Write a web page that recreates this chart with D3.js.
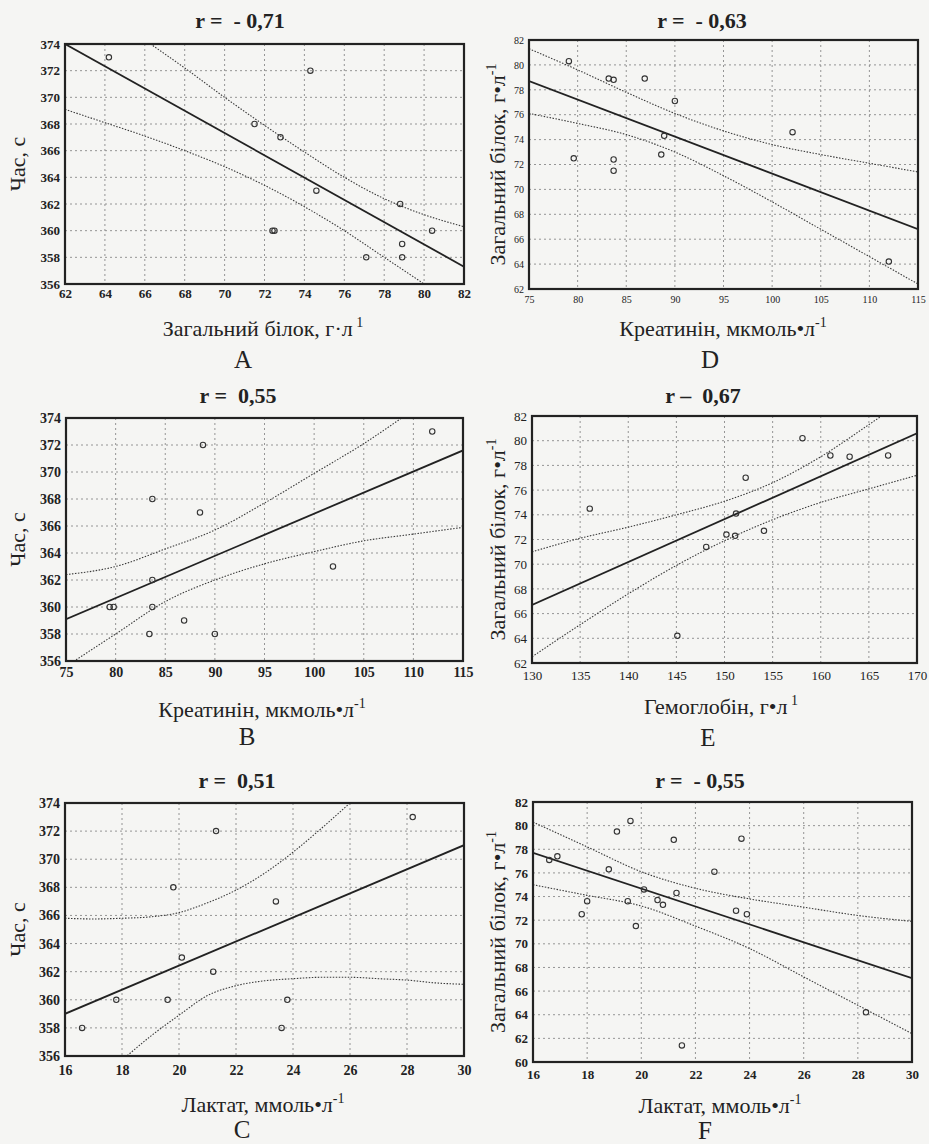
<!DOCTYPE html>
<html>
<head>
<meta charset="utf-8">
<script src="https://cdn.jsdelivr.net/npm/d3@7"></script>
<style>
  body { margin: 0; background: #f5f5f3; }
  svg text { fill: #222; white-space: pre; }
</style>
</head>
<body>
<svg id="chart" width="929" height="1144"></svg>
<script>
// Панель A: час vs загальний білок
const aX = [64.2, 74.3, 71.5, 72.8, 74.6, 78.8, 72.4, 72.5, 80.4, 78.9, 77.1, 78.9];
const aY = [373, 372, 368, 367, 363, 362, 360, 360, 360, 359, 358, 358];
const aFitX = [62, 82];
const aFitY = [374, 357.3];
const aBandX = [62, 64, 66, 68, 70, 72, 74, 76, 78, 80, 82];
const aUpper = [378.6, 376.4, 374.3, 372.2, 370.0, 367.9, 365.9, 364.0, 362.4, 361.2, 360.3];
const aLower = [369.1, 368.1, 367.1, 366.0, 364.8, 363.4, 361.8, 360.0, 358.0, 356.0, 353.9];
const aXTicks = [62, 64, 66, 68, 70, 72, 74, 76, 78, 80, 82];

// Панель B: час vs креатинін
const bX = [88.8, 111.9, 83.7, 88.5, 101.9, 83.7, 79.4, 79.8, 83.7, 86.9, 83.4, 90];
const bY = [372, 373, 368, 367, 363, 362, 360, 360, 360, 359, 358, 358];
const bFitX = [75, 115];
const bFitY = [359.1, 371.6];
const bBandX = [75, 80, 85, 90, 95, 100, 105, 110, 115];
const bUpper = [362.4, 363.0, 364.3, 365.7, 367.7, 369.9, 372.1, 374.6, 377.1];
const bLower = [355.6, 358.0, 360.4, 362.0, 363.2, 364.1, 364.9, 365.4, 365.9];
const bXTicks = [75, 80, 85, 90, 95, 100, 105, 110, 115];

// Панель C: час vs лактат
const cX = [16.6, 17.8, 19.6, 19.8, 20.1, 21.3, 21.2, 23.4, 23.8, 23.6, 28.2];
const cY = [358, 360, 360, 368, 363, 372, 362, 367, 360, 358, 373];
const cFitX = [16, 30];
const cFitY = [359.0, 371.0];
const cBandX = [16, 17, 18, 19, 20, 21, 22, 23, 24, 25, 26, 27, 28, 29, 30];
const cUpper = [365.8, 365.75, 365.8, 365.9, 366.2, 366.9, 367.8, 369.0, 370.5, 372.2, 374.0, 375.9, 377.8, 379.7, 381.6];
const cLower = [352.0, 353.9, 355.7, 357.4, 358.9, 360.3, 361.0, 361.35, 361.5, 361.6, 361.6, 361.5, 361.4, 361.2, 361.1];
const cXTicks = [16, 18, 20, 22, 24, 26, 28, 30];

const timeYTicks = [356, 358, 360, 362, 364, 366, 368, 370, 372, 374];

// Панель D: білок vs креатинін
const dX = [79.1, 79.6, 83.2, 83.7, 83.7, 83.7, 86.9, 90, 88.9, 88.6, 102.1, 112];
const dY = [80.3, 72.5, 78.9, 78.8, 72.4, 71.5, 78.9, 77.1, 74.3, 72.8, 74.6, 64.2];
const dFitX = [75, 115];
const dFitY = [78.7, 66.8];
const dBandX = [75, 80, 85, 90, 95, 100, 105, 110, 115];
const dUpper = [81.3, 79.6, 77.8, 76.1, 74.7, 73.6, 72.8, 72.1, 71.4];
const dLower = [76.1, 75.3, 74.4, 73.0, 71.1, 69.0, 66.8, 64.6, 62.4];
const dXTicks = [75, 80, 85, 90, 95, 100, 105, 110, 115];
const dYTicks = [62, 64, 66, 68, 70, 72, 74, 76, 78, 80, 82];

// Панель E: білок vs гемоглобін
const eX = [136, 145.1, 148.1, 150.2, 151.1, 151.2, 152.2, 154.1, 158.1, 161, 163, 167];
const eY = [74.5, 64.2, 71.4, 72.4, 72.3, 74.1, 77, 72.7, 80.2, 78.8, 78.7, 78.8];
const eFitX = [130, 170];
const eFitY = [66.7, 80.6];
const eBandX = [130, 135, 140, 145, 150, 155, 160, 165, 170];
const eUpper = [71.0, 72.1, 73.0, 74.0, 75.1, 76.6, 78.7, 81.3, 84.0];
const eLower = [62.5, 65.1, 67.6, 69.9, 71.9, 73.6, 75.0, 76.1, 77.2];
const eXTicks = [130, 135, 140, 145, 150, 155, 160, 165, 170];
const eYTicks = [62, 64, 66, 68, 70, 72, 74, 76, 78, 80, 82];

// Панель F: білок vs лактат
const fX = [16.6, 16.9, 17.8, 18.0, 18.8, 19.1, 19.6, 19.5, 19.8, 20.1, 20.6, 20.8, 21.2, 21.3, 21.5, 22.7, 23.5, 23.7, 23.9, 28.3];
const fY = [77.1, 77.4, 72.5, 73.6, 76.3, 79.5, 80.4, 73.6, 71.5, 74.6, 73.7, 73.3, 78.8, 74.3, 61.4, 76.1, 72.8, 78.9, 72.5, 64.2];
const fFitX = [16, 30];
const fFitY = [77.7, 67.1];
const fBandX = [16, 18, 20, 22, 24, 26, 28, 30];
const fUpper = [80.3, 78.2, 76.1, 74.7, 73.8, 73.1, 72.4, 71.9];
const fLower = [75.0, 74.1, 73.2, 71.5, 69.6, 67.2, 64.8, 62.4];
const fXTicks = [16, 18, 20, 22, 24, 26, 28, 30];
const fYTicks = [60, 62, 64, 66, 68, 70, 72, 74, 76, 78, 80, 82];

const titles = ['r =  - 0,71', 'r =  0,55', 'r =  0,51', 'r =  - 0,63', 'r \u2013  0,67', 'r =  - 0,55'];
const letters = ['A', 'B', 'C', 'D', 'E', 'F'];
const timeTitle = ['Час, с', ''];
const proteinTitle = ['Загальний білок, г\u2022л', '-1'];
const xTitles = [
    ['Загальний білок, г\u00b7л', ' 1'],
    ['Креатинін, мкмоль\u2022л', '-1'],
    ['Лактат, ммоль\u2022л', '-1'],
    ['Креатинін, мкмоль\u2022л', '-1'],
    ['Гемоглобін, г\u2022л', ' 1'],
    ['Лактат, ммоль\u2022л', '-1']
];

const FONT = '"Liberation Serif"';

// Розміщення панелей (пікселі)
const layout = [
    { left: 65, top: 44, right: 464, bottom: 284, titleX: 240, titleY: 28, xTitleX: 263, xTitleY: 336, letterX: 243, letterY: 368, yTitleX: 25, tickSize: 13, tickBold: true, xTickDy: 15 },
    { left: 66, top: 418, right: 463, bottom: 661, titleX: 238, titleY: 403, xTitleX: 262, xTitleY: 717, letterX: 247, letterY: 745, yTitleX: 25, tickSize: 14, tickBold: true, xTickDy: 17 },
    { left: 65, top: 803, right: 464, bottom: 1056, titleX: 237, titleY: 788, xTitleX: 263, xTitleY: 1112, letterX: 242, letterY: 1138, yTitleX: 25, tickSize: 14, tickBold: true, xTickDy: 20 },
    { left: 529, top: 40, right: 918, bottom: 289, titleX: 702, titleY: 28, xTitleX: 723, xTitleY: 336, letterX: 710, letterY: 368, yTitleX: 505, tickSize: 10, tickBold: false, xTickDy: 14 },
    { left: 532, top: 416, right: 917, bottom: 663, titleX: 703, titleY: 403, xTitleX: 721, xTitleY: 714, letterX: 708, letterY: 746, yTitleX: 505, tickSize: 13, tickBold: false, xTickDy: 18 },
    { left: 533, top: 802, right: 912, bottom: 1062, titleX: 700, titleY: 788, xTitleX: 720, xTitleY: 1113, letterX: 705, letterY: 1139, yTitleX: 505, tickSize: 13, tickBold: true, xTickDy: 18 }
];

const panels = [
    { xs: aX, ys: aY, fitX: aFitX, fitY: aFitY, bandX: aBandX, upper: aUpper, lower: aLower, xTicks: aXTicks, yTicks: timeYTicks, yTitle: timeTitle },
    { xs: bX, ys: bY, fitX: bFitX, fitY: bFitY, bandX: bBandX, upper: bUpper, lower: bLower, xTicks: bXTicks, yTicks: timeYTicks, yTitle: timeTitle },
    { xs: cX, ys: cY, fitX: cFitX, fitY: cFitY, bandX: cBandX, upper: cUpper, lower: cLower, xTicks: cXTicks, yTicks: timeYTicks, yTitle: timeTitle },
    { xs: dX, ys: dY, fitX: dFitX, fitY: dFitY, bandX: dBandX, upper: dUpper, lower: dLower, xTicks: dXTicks, yTicks: dYTicks, yTitle: proteinTitle },
    { xs: eX, ys: eY, fitX: eFitX, fitY: eFitY, bandX: eBandX, upper: eUpper, lower: eLower, xTicks: eXTicks, yTicks: eYTicks, yTitle: proteinTitle },
    { xs: fX, ys: fY, fitX: fFitX, fitY: fFitY, bandX: fBandX, upper: fUpper, lower: fLower, xTicks: fXTicks, yTicks: fYTicks, yTitle: proteinTitle }
];

const svg = d3.select('#chart');

function addLabel(sel, parts, size, supSize) {
    sel.append('tspan').attr('font-family', FONT).text(parts[0]);
    if (parts[1]) {
        sel.append('tspan').attr('font-family', FONT)
            .attr('dy', -size * 0.42).attr('font-size', supSize).text(parts[1]);
    }
}

function drawPanel(p, box, i) {
    const g = svg.append('g');
    const x = d3.scaleLinear().domain(d3.extent(p.xTicks)).range([box.left, box.right]);
    const y = d3.scaleLinear().domain(d3.extent(p.yTicks)).range([box.bottom, box.top]);
    const midY = (box.top + box.bottom) / 2;

    const clipId = 'clip' + i;
    svg.append('clipPath').attr('id', clipId).append('rect')
        .attr('x', box.left).attr('y', box.top)
        .attr('width', box.right - box.left).attr('height', box.bottom - box.top);

    // сітка
    g.append('g').selectAll('line').data(p.xTicks.slice(1, -1)).join('line')
        .attr('x1', d => x(d)).attr('x2', d => x(d))
        .attr('y1', box.top).attr('y2', box.bottom)
        .attr('stroke', '#8a8a8a').attr('stroke-width', 0.9).attr('stroke-dasharray', '2,3');
    g.append('g').selectAll('line').data(p.yTicks.slice(1, -1)).join('line')
        .attr('y1', d => y(d)).attr('y2', d => y(d))
        .attr('x1', box.left).attr('x2', box.right)
        .attr('stroke', '#8a8a8a').attr('stroke-width', 0.9).attr('stroke-dasharray', '2,3');

    // довірчі межі
    const band = d3.line().x(d => x(d[0])).y(d => y(d[1])).curve(d3.curveMonotoneX);
    const inner = g.append('g').attr('clip-path', `url(#${clipId})`);
    [p.upper, p.lower].forEach(vals => {
        inner.append('path')
            .datum(p.bandX.map((v, k) => [v, vals[k]]))
            .attr('d', band)
            .attr('fill', 'none').attr('stroke', '#3a3a3a').attr('stroke-width', 1.1)
            .attr('stroke-dasharray', '1.5,1.5');
    });

    // лінія регресії
    inner.append('path')
        .datum(p.fitX.map((v, k) => [v, p.fitY[k]]))
        .attr('d', d3.line().x(d => x(d[0])).y(d => y(d[1])))
        .attr('fill', 'none').attr('stroke', '#222').attr('stroke-width', 1.8);

    // точки
    g.append('g').selectAll('circle').data(p.xs.map((v, k) => [v, p.ys[k]])).join('circle')
        .attr('cx', d => x(d[0])).attr('cy', d => y(d[1])).attr('r', 2.7)
        .attr('fill', 'none').attr('stroke', '#333').attr('stroke-width', 1.1);

    // рамка
    g.append('rect')
        .attr('x', box.left).attr('y', box.top)
        .attr('width', box.right - box.left).attr('height', box.bottom - box.top)
        .attr('fill', 'none').attr('stroke', '#222').attr('stroke-width', 2.2);

    // осі
    const weight = box.tickBold ? 'bold' : 'normal';
    const xAxis = g.append('g').attr('transform', `translate(0,${box.bottom})`)
        .call(d3.axisBottom(x).tickValues(p.xTicks).tickSize(0).tickPadding(box.xTickDy - box.tickSize + 3));
    const yAxis = g.append('g').attr('transform', `translate(${box.left},0)`)
        .call(d3.axisLeft(y).tickValues(p.yTicks).tickSize(0).tickPadding(5));
    [xAxis, yAxis].forEach(a => {
        a.attr('font-family', FONT);
        a.select('.domain').remove();
        a.selectAll('text')
            .attr('font-size', box.tickSize).attr('font-weight', weight)
            .attr('font-family', FONT).attr('fill', '#333');
    });

    // підписи
    g.append('text').attr('x', box.titleX).attr('y', box.titleY)
        .attr('text-anchor', 'middle').attr('font-size', 22).attr('font-weight', 'bold')
        .attr('font-family', FONT)
        .text(titles[i]);

    const xt = g.append('text').attr('x', box.xTitleX).attr('y', box.xTitleY)
        .attr('text-anchor', 'middle').attr('font-size', 22).attr('font-family', FONT);
    addLabel(xt, xTitles[i], 22, 14);

    g.append('text').attr('x', box.letterX).attr('y', box.letterY)
        .attr('text-anchor', 'middle').attr('font-size', 25).attr('font-family', FONT)
        .text(letters[i]);

    const yt = g.append('text')
        .attr('transform', `translate(${box.yTitleX},${midY}) rotate(-90)`)
        .attr('text-anchor', 'middle').attr('font-size', 22).attr('font-family', FONT);
    addLabel(yt, p.yTitle, 22, 14);
}

panels.forEach((p, i) => drawPanel(p, layout[i], i));
</script>
</body>
</html>
